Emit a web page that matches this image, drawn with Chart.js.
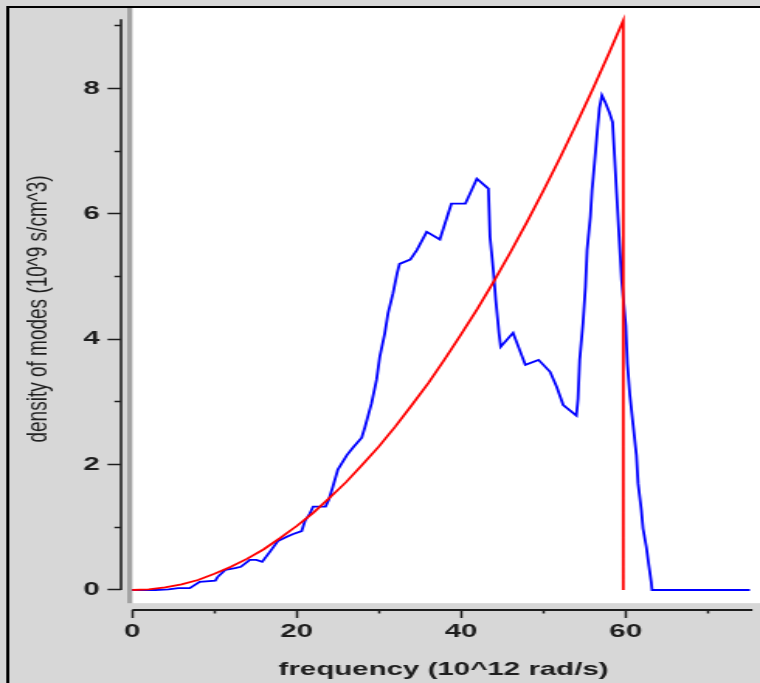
<!DOCTYPE html>
<html><head><meta charset="utf-8">
<script src="https://cdn.jsdelivr.net/npm/chart.js@4.4.1/dist/chart.umd.min.js"></script>
<style>
html,body{margin:0;padding:0;overflow:hidden;background:#d7d7d7;}
#wrap{position:absolute;left:0;top:0;width:494px;height:683px;transform-origin:0 0;transform:scaleX(1.55102);}
canvas{display:block;}
</style></head><body>
<div id="wrap"><canvas id="c" width="494" height="683"></canvas></div>
<script>
// ---- data ----
const blueFreq = [0, 2.8, 4.4, 5.6, 7.0, 8.2, 10.1, 10.4, 11.3, 12.5, 13.2, 14.3, 15.1, 15.8, 16.8, 17.7, 18.8, 19.5, 20.6, 21.0, 21.6, 22.0, 23.5, 23.9, 24.4, 25.0, 26.1, 26.9, 27.9, 28.3, 29.1, 29.7, 30.1, 30.7, 31.1, 31.7, 32.2, 32.5, 33.8, 34.6, 35.8, 37.4, 38.8, 40.5, 41.9, 43.3, 43.5, 43.9, 44.2, 44.6, 44.8, 46.3, 47.8, 49.4, 50.8, 51.6, 52.4, 54.0, 54.2, 54.4, 54.8, 55.1, 55.3, 55.7, 55.9, 56.2, 56.5, 56.8, 57.1, 57.5, 58.0, 58.4, 58.6, 58.9, 59.2, 59.5, 60.0, 60.2, 60.5, 60.9, 61.3, 61.5, 61.9, 62.1, 62.5, 62.8, 63.1, 63.2, 75.1];
const blueDensity = [0, 0, 0.01, 0.03, 0.03, 0.13, 0.15, 0.21, 0.32, 0.35, 0.37, 0.48, 0.48, 0.45, 0.62, 0.78, 0.85, 0.89, 0.94, 1.1, 1.22, 1.33, 1.33, 1.44, 1.65, 1.92, 2.15, 2.28, 2.43, 2.6, 2.98, 3.35, 3.72, 4.09, 4.41, 4.73, 5.05, 5.2, 5.27, 5.42, 5.71, 5.59, 6.16, 6.16, 6.56, 6.4, 5.63, 5.1, 4.62, 4.09, 3.88, 4.1, 3.59, 3.67, 3.48, 3.24, 2.95, 2.78, 3.05, 3.67, 4.25, 4.83, 5.42, 5.95, 6.37, 6.8, 7.25, 7.68, 7.89, 7.78, 7.62, 7.46, 7.01, 6.32, 5.63, 4.94, 4.22, 3.61, 3.11, 2.63, 2.15, 1.7, 1.27, 0.98, 0.69, 0.4, 0.13, 0, 0];
const debyeFreq = [0, 2, 4, 6, 8, 10, 12, 14, 16, 18, 20, 22, 24, 26, 28, 30, 32, 34, 36, 38, 40, 42, 44, 46, 48, 50, 52, 54, 56, 58, 59.7, 59.7];
const debyeDensity = [0, 0.01, 0.04, 0.09, 0.16, 0.26, 0.37, 0.5, 0.65, 0.83, 1.02, 1.23, 1.47, 1.72, 2.0, 2.29, 2.61, 2.95, 3.3, 3.68, 4.08, 4.49, 4.93, 5.39, 5.87, 6.37, 6.89, 7.43, 7.99, 8.57, 9.08, 0];
const xMajorTicks = [0, 20, 40, 60];
const xMinorTicks = [10, 30, 50, 70];
const yMajorTicks = [0, 2, 4, 6, 8];
const yMinorTicks = [1, 3, 5, 7, 9];
const xTitle = 'frequency (10^12 rad/s)';
const yTitle = 'density of modes (10^9 s/cm^3)';

// ---- axis extents ----
const xMin = -1.365, xMax = 77.08;
const yMin = -0.319, yMax = 9.281;
const xAxisEnd = 75.4, yAxisEnd = 9.1;
const panelBottom = -0.21;

const FONT = "'Liberation Sans', Arial, sans-serif";
const INK = '#1e1e1e';

const panelPlugin = {
  id: 'panel',
  beforeDraw(chart) {
    const {ctx, chartArea, scales} = chart;
    const x = scales.x, y = scales.y;
    ctx.save();
    ctx.fillStyle = '#d7d7d7';
    ctx.fillRect(0, 0, chart.width, chart.height);
    const left = x.getPixelForValue(0);
    const bottom = y.getPixelForValue(panelBottom);
    ctx.fillStyle = '#ffffff';
    ctx.fillRect(left, chartArea.top, chart.width - left, bottom - chartArea.top);
    ctx.fillStyle = '#a2a2a2';
    ctx.fillRect(left - 3.2, chartArea.top, 3.2, bottom - chartArea.top);
    ctx.fillStyle = '#000';
    ctx.fillRect(4, 6, chart.width - 4, 2);
    ctx.fillRect(4, 6, 2, chart.height - 6);
    ctx.restore();
  },
  afterDraw(chart) {
    const {ctx, chartArea, scales} = chart;
    const x = scales.x, y = scales.y;
    ctx.save();
    ctx.strokeStyle = INK;
    ctx.lineWidth = 2;
    ctx.beginPath();
    ctx.moveTo(x.getPixelForValue(0), chartArea.bottom);
    ctx.lineTo(x.getPixelForValue(xAxisEnd), chartArea.bottom);
    ctx.stroke();
    ctx.lineWidth = 1.6;
    ctx.beginPath();
    ctx.moveTo(chartArea.left, y.getPixelForValue(0));
    ctx.lineTo(chartArea.left, y.getPixelForValue(yAxisEnd));
    ctx.stroke();
    ctx.restore();
  }
};

new Chart(document.getElementById('c'), {
  type: 'scatter',
  data: {
    datasets: [
      {
        label: 'Debye model',
        data: debyeFreq.map((f, i) => ({x: f, y: debyeDensity[i]})),
        showLine: true, borderColor: '#ff0000', borderWidth: 1.8,
        pointRadius: 0, tension: 0, order: 1
      },
      {
        label: 'density of modes',
        data: blueFreq.map((f, i) => ({x: f, y: blueDensity[i]})),
        showLine: true, borderColor: '#0000ff', borderWidth: 1.8,
        pointRadius: 0, tension: 0, order: 2
      }
    ]
  },
  options: {
    responsive: false,
    animation: false,
    devicePixelRatio: 1,
    layout: {padding: {top: 8, right: 0, bottom: 0, left: 0}},
    plugins: {legend: {display: false}, tooltip: {enabled: false}},
    scales: {
      x: {
        type: 'linear', min: xMin, max: xMax, bounds: 'data',
        afterBuildTicks: s => { s.ticks = [...xMajorTicks, ...xMinorTicks].sort((a, b) => a - b).map(v => ({value: v})); },
        afterFit: s => { s.height = 73; s.paddingLeft = 0; s.paddingRight = 0; },
        border: {display: false},
        grid: {
          drawOnChartArea: false, drawTicks: true, tickLength: 8, tickWidth: 1.5, tickColor: INK,
          tickBorderDash: c => (c.tick && xMinorTicks.includes(c.tick.value)) ? [3.5, 50] : []
        },
        ticks: {
          padding: 2, color: INK, autoSkip: false, maxRotation: 0,
          font: {family: FONT, size: 19, weight: 'bold'},
          callback: v => xMajorTicks.includes(v) ? String(v) : ''
        },
        title: {display: true, text: xTitle, color: INK, font: {family: FONT, size: 19, weight: 'bold'}, padding: {top: 0, bottom: 1.6}}
      },
      y: {
        type: 'linear', min: yMin, max: yMax, bounds: 'data',
        afterBuildTicks: s => { s.ticks = [...yMajorTicks, ...yMinorTicks].sort((a, b) => a - b).map(v => ({value: v})); },
        afterFit: s => { s.width = 78; s.paddingTop = 0; s.paddingBottom = 0; },
        border: {display: false},
        grid: {
          drawOnChartArea: false, drawTicks: true, tickLength: 8.7, tickWidth: 1.5, tickColor: INK,
          tickBorderDash: c => (c.tick && yMinorTicks.includes(c.tick.value)) ? [0, 4.5, 4.2, 50] : []
        },
        ticks: {
          padding: 5, color: INK, autoSkip: false,
          font: {family: FONT, size: 19, weight: 'bold'},
          callback: v => yMajorTicks.includes(v) ? String(v) : ''
        },
        title: {display: true, text: yTitle, color: INK, font: {family: FONT, size: 19, weight: 'normal'}, padding: {top: 13.1, bottom: 0}}
      }
    }
  },
  plugins: [panelPlugin]
});
</script>
</body></html>
